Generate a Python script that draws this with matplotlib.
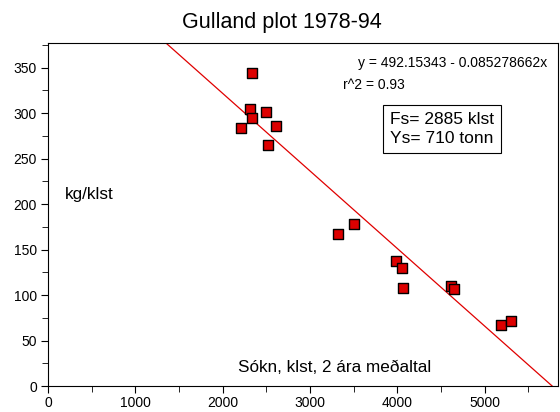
import matplotlib
matplotlib.use("Agg")
import matplotlib.pyplot as plt
import numpy as np
from matplotlib.ticker import MultipleLocator

effort = [2205, 2311, 2331, 2331, 2491, 2514, 2609, 3322, 3498, 3982, 4050, 4062, 4615, 4645, 5191, 5301]
cpue = [284, 304, 295, 344, 301, 265, 286, 167, 178, 137, 130, 108, 110, 107, 67, 72]
intercept = 492.15343
slope = -0.085278662

fig = plt.figure(figsize=(5.6, 4.12), dpi=100)
ax = fig.add_axes([0.0857, 0.063, 0.9103, 0.8326])
xmin, xmax = 0, 5835
ymin, ymax = 0, 377
ax.set_xlim(xmin, xmax)
ax.set_ylim(ymin, ymax)

xs = np.array([xmin, xmax])
ax.plot(xs, intercept + slope * xs, color='#e00000', lw=0.9, zorder=2)
ax.scatter(effort, cpue, marker='s', s=60, facecolor='#dd0000', edgecolor='black', linewidth=1.0, zorder=3)

ax.xaxis.set_major_locator(MultipleLocator(1000))
ax.xaxis.set_minor_locator(MultipleLocator(500))
ax.yaxis.set_major_locator(MultipleLocator(50))
ax.yaxis.set_minor_locator(MultipleLocator(25))
ax.tick_params(which='major', direction='out', length=5, width=0.8, labelsize=10)
ax.tick_params(which='minor', direction='out', length=4, width=0.6)
ax.tick_params(axis='x', pad=2)
ax.tick_params(axis='y', pad=3)
for lbl in ax.get_xticklabels() + ax.get_yticklabels():
    lbl.set_family('Liberation Sans')
for sp in ax.spines.values():
    sp.set_linewidth(0.8)

fig.text(0.504, 0.945, 'Gulland plot 1978-94', ha='center', va='center', fontsize=15.5, family='Liberation Sans')
ax.text(0.98, 0.942, 'y = 492.15343 - 0.085278662x', transform=ax.transAxes, ha='right', va='center', fontsize=10, family='Liberation Sans')
ax.text(0.578, 0.878, 'r^2 = 0.93', transform=ax.transAxes, ha='left', va='center', fontsize=10, family='Liberation Sans')
ax.text(0.671, 0.749, 'Fs= 2885 klst\nYs= 710 tonn', transform=ax.transAxes, ha='left', va='center', fontsize=12.5,
        family='Liberation Sans', linespacing=1.35,
        bbox=dict(boxstyle='square,pad=0.4', facecolor='white', edgecolor='black', linewidth=0.8))
ax.text(0.033, 0.557, 'kg/klst', transform=ax.transAxes, ha='left', va='center', fontsize=12.3, family='Liberation Sans')
ax.text(0.563, 0.055, 'Sókn, klst, 2 ára meðaltal', transform=ax.transAxes, ha='center', va='center', fontsize=12.3, family='Liberation Sans')

fig.savefig('out.png', dpi=100)
